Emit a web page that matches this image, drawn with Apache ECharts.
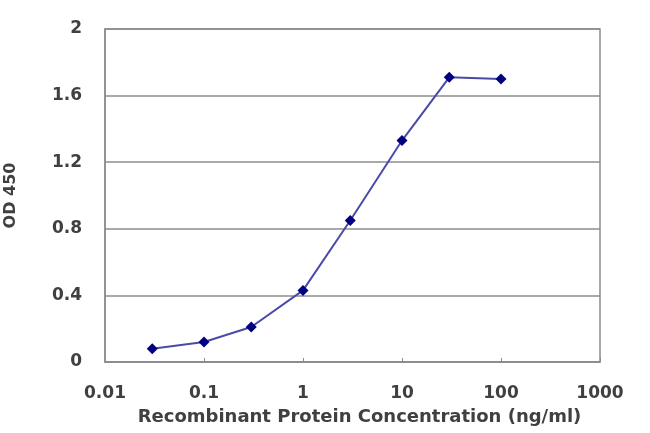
<!DOCTYPE html>
<html>
<head>
<meta charset="utf-8">
<script src="https://cdn.jsdelivr.net/npm/echarts@6/dist/echarts.min.js"></script>
<style>html,body{margin:0;padding:0;background:#fff}#c{width:650px;height:433px}</style>
</head>
<body>
<div id="c"></div>
<script>
var concentrations = [0.03, 0.1, 0.3, 1, 3, 10, 30, 100];
var odValues = [0.08, 0.12, 0.21, 0.43, 0.85, 1.33, 1.71, 1.70];
var xTickLabels = ['0.01', '0.1', '1', '10', '100', '1000'];
var yTickLabels = ['0', '0.4', '0.8', '1.2', '1.6', '2'];
var xTitle = 'Recombinant Protein Concentration (ng/ml)';
var yTitle = 'OD 450';

var chart = echarts.init(document.getElementById('c'));
var font = 'DejaVu Sans, Verdana, sans-serif';
var txt = '#404040';
chart.setOption({
  animation: false,
  grid: {left: 105, right: 50, top: 29, bottom: 71, show: true, borderColor: '#8c8c8c', borderWidth: 1.5, backgroundColor: '#fff', outerBoundsMode: 'none', containLabel: false},
  xAxis: {
    type: 'log', logBase: 10, min: 0.01, max: 1000,
    name: xTitle, nameLocation: 'middle', nameGap: 46,
    nameTextStyle: {fontFamily: font, fontSize: 18, color: txt, fontWeight: 'bold', padding: [0, 0, 0, 14]},
    axisLine: {show: true, lineStyle: {color: '#8c8c8c', width: 1.5}},
    axisTick: {show: true, inside: true, length: 4, lineStyle: {color: '#8c8c8c'}},
    splitLine: {show: false},
    minorTick: {show: false},
    axisLabel: {fontFamily: font, fontSize: 17, color: txt, fontWeight: 'bold', margin: 23,
      formatter: function (v) {
        var e = Math.round(Math.log10(v)) + 2;
        return xTickLabels[e] !== undefined ? xTickLabels[e] : '';
      }}
  },
  yAxis: {
    type: 'value', min: 0, max: 2, interval: 0.4,
    name: yTitle, nameLocation: 'middle', nameGap: 86, nameRotate: 90,
    nameTextStyle: {fontFamily: font, fontSize: 16, color: txt, fontWeight: 'bold'},
    axisLine: {show: true, lineStyle: {color: '#8c8c8c', width: 1.5}},
    axisTick: {show: false},
    splitLine: {show: true, lineStyle: {color: '#8c8c8c', width: 1.5}},
    axisLabel: {fontFamily: font, fontSize: 17, color: txt, fontWeight: 'bold', margin: 23,
      formatter: function (v) {
        var i = Math.round(v / 0.4);
        return yTickLabels[i] !== undefined ? yTickLabels[i] : '';
      }}
  },
  series: [{
    type: 'line',
    data: concentrations.map(function (c, i) { return [c, odValues[i]]; }),
    symbol: 'diamond', symbolSize: 11,
    itemStyle: {color: '#000080'},
    lineStyle: {color: '#4a4aa8', width: 2}
  }]
});
</script>
</body>
</html>
